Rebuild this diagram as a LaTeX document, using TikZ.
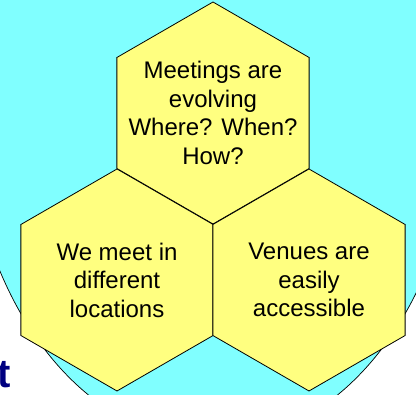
\documentclass[tikz,border=0pt]{standalone}
\usepackage{fontspec}
\setmainfont{Liberation Sans}
\definecolor{bgcyan}{HTML}{80FFFF}
\definecolor{hexyellow}{HTML}{FFFF80}
\definecolor{navy}{HTML}{000080}
\begin{document}
\begin{tikzpicture}[x=1pt,y=1pt,
  hexa/.style={draw=black, line width=0.8pt, fill=hexyellow, line join=miter},
  txt/.style={align=center, font=\fontsize{24}{28.5}\selectfont, inner sep=0pt},
  bigoval/.style={draw=black, line width=0.7pt, fill=bgcyan}]
\useasboundingbox (0,0) rectangle (416,395);
\fill[white] (0,0) rectangle (416,395);
\begin{scope}
\clip (0,0) rectangle (416,395);
\path[bigoval] (213,295) ellipse [x radius=246, y radius=342];
\end{scope}
\coordinate (ctop) at (213,282);
\coordinate (cleft) at (117,115);
\coordinate (cright) at (309,115);
\def\R{111}
\foreach \c in {ctop,cleft,cright}{
  \draw[hexa] (\c) ++(30:\R) -- ++(150:\R) -- ++(210:\R) -- ++(270:\R) -- ++(330:\R) -- ++(30:\R) -- cycle;
}
\node[txt] (ttop) at (ctop) {Meetings are\\evolving\\Where? When?\\How?};
\node[txt] (tleft) at (cleft) {We meet in\\different\\locations};
\node[txt] (tright) at (cright) {Venues are\\easily\\accessible};
\node[anchor=base east, inner sep=0pt, text=navy, font=\fontsize{40}{44}\selectfont\bfseries] (tt) at (11,7) {t};
\end{tikzpicture}
\end{document}
